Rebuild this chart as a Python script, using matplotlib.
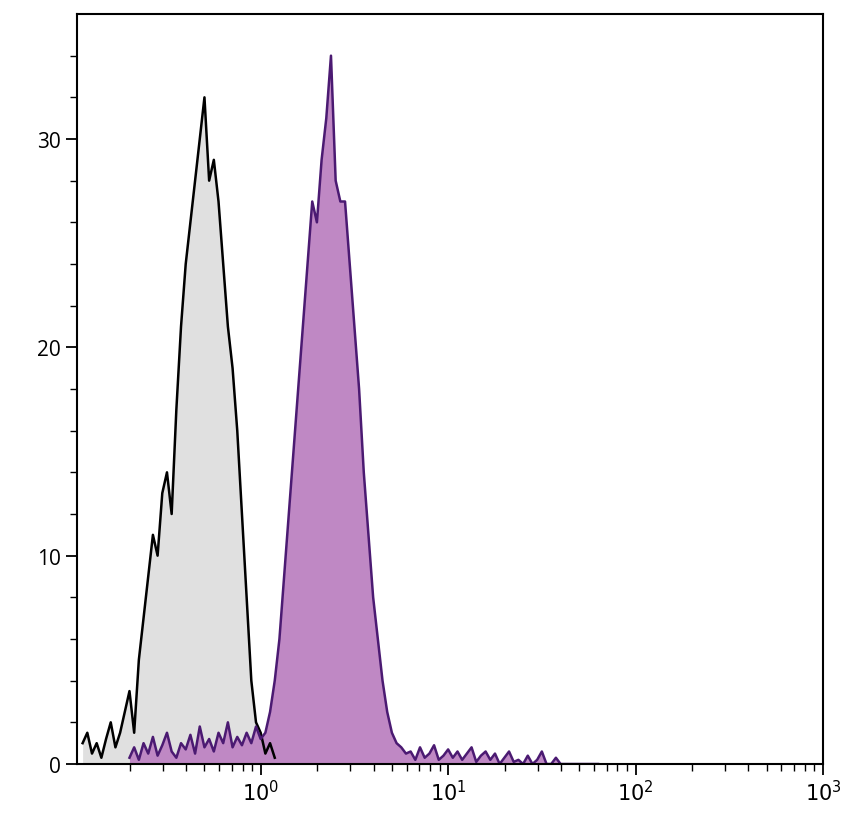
import numpy as np
import matplotlib
matplotlib.use("Agg")
import matplotlib.pyplot as plt
from matplotlib.ticker import FixedLocator, LogLocator, NullFormatter

plt.rcParams['font.family'] = ['Open Sans', 'DejaVu Sans']

# log10 bin centres and counts
gray_log = [-0.95,-0.925,-0.9,-0.875,-0.85,-0.825,-0.8,-0.775,-0.75,-0.725,-0.7,-0.675,-0.65,-0.625,-0.6,
            -0.575,-0.55,-0.525,-0.5,-0.475,-0.45,-0.425,-0.4,-0.375,-0.35,-0.325,-0.3,-0.275,-0.25,-0.225,
            -0.2,-0.175,-0.15,-0.125,-0.1,-0.075,-0.05,-0.025,0.0,0.025,0.05,0.075]
gray_cnt = [1,1.5,0.5,1,0.3,1.2,2,0.8,1.5,2.5,3.5,1.5,5,7,9,
            11,10,13,14,12,17,21,24,26,28,30,32,28,29,27,
            24,21,19,16,12,8,4,2,1.5,0.5,1,0.3]

purple_log = [-0.7,-0.675,-0.65,-0.625,-0.6,-0.575,-0.55,-0.525,-0.5,-0.475,-0.45,-0.425,-0.4,-0.375,-0.35,
              -0.325,-0.3,-0.275,-0.25,-0.225,-0.2,-0.175,-0.15,-0.125,-0.1,-0.075,-0.05,-0.025,0.0,0.025,
              0.05,0.075,0.1,0.125,0.15,0.175,0.2,0.225,0.25,0.275,0.3,0.325,0.35,0.375,0.4,0.425,0.45,0.475,
              0.5,0.525,0.55,0.575,0.6,0.625,0.65,0.675,0.7,0.725,0.75,0.775,
              0.8,0.825,0.85,0.875,0.9,0.925,0.95,0.975,1.0,1.025,1.05,1.075,1.1,1.125,1.15,1.175,1.2,1.225,
              1.25,1.275,1.3,1.325,1.35,1.375,1.4,1.425,1.45,1.475,1.5,1.525,1.55,1.575,1.6,1.625,1.65,1.675,
              1.7,1.725,1.75,1.775,1.8]
purple_cnt = [0.3,0.8,0.2,1,0.5,1.3,0.4,0.9,1.5,0.6,0.3,1,0.7,1.4,0.5,
              1.8,0.8,1.2,0.6,1.5,1.0,2.0,0.8,1.3,0.9,1.5,1.0,1.8,1.2,1.5,
              2.5,4,6,9,12,15,18,21,24,27,26,29,31,34,28,27,27,24,
              21,18,14,11,8,6,4,2.5,1.5,1,0.8,0.5,
              0.6,0.2,0.8,0.3,0.5,0.9,0.2,0.4,0.7,0.3,0.6,0.2,0.5,0.8,0.1,0.4,0.6,0.2,
              0.5,0.0,0.3,0.6,0.1,0.2,0.0,0.4,0.0,0.2,0.6,0.0,0.0,0.3,0.0,0.0,0.0,0.0,
              0.0,0.0,0.0,0.0,0.0]

fig = plt.figure(figsize=(8.49, 8.29), dpi=100)
ax = fig.add_axes([77/849, 64/829, 746/849, 750/829])

gx = 10 ** np.array(gray_log)
px = 10 ** np.array(purple_log)
ax.fill_between(gx, gray_cnt, color='#e0e0e0', lw=0)
ax.plot(gx, gray_cnt, color='black', lw=1.8)
ax.fill_between(px, purple_cnt, color='#bf88c4', lw=0)
ax.plot(px, purple_cnt, color='#4b1a72', lw=1.8)

ax.set_xscale('log')
ax.set_xlim(10 ** -0.98, 10 ** 3.0)
ax.set_ylim(0, 36)
ax.xaxis.set_major_locator(FixedLocator([1, 10, 100, 1000]))
ax.xaxis.set_minor_locator(LogLocator(base=10, subs=np.arange(2, 10), numticks=20))
ax.xaxis.set_minor_formatter(NullFormatter())
ax.set_xticklabels([r'$10^{0}$', r'$10^{1}$', r'$10^{2}$', r'$10^{3}$'])
ax.set_yticks([0, 10, 20, 30])
ax.set_yticks(np.arange(0, 36, 2), minor=True)
ax.tick_params(which='major', length=8, width=1.3, labelsize=15, direction='out')
ax.tick_params(which='minor', length=5, width=1.0, direction='out')
for s in ax.spines.values():
    s.set_linewidth(1.5)

fig.savefig('out.png', dpi=100)
